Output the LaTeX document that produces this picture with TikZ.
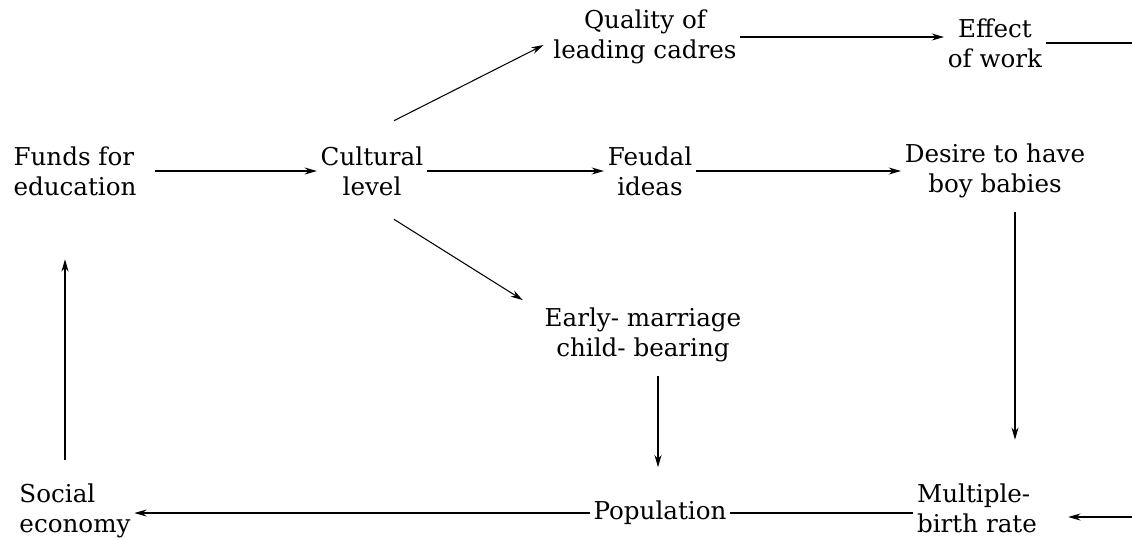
\documentclass[tikz,border=0pt]{standalone}
\usepackage{fontspec}
\setmainfont{DejaVu Serif}
\usetikzlibrary{arrows.meta}

\begin{document}
\begin{tikzpicture}[
    x=0.02cm, y=-0.02cm,
    every node/.style={font=\fontsize{14}{17}\selectfont, inner sep=2pt},
    item/.style={align=center},
    leftitem/.style={align=left},
    arrow/.style={-{Stealth[length=7pt,width=4pt]}, line width=0.6pt},
    plain/.style={line width=0.6pt}
]
\useasboundingbox (0,0) rectangle (1132,539);

% nodes, top row
\node[item] (quality) at (645,37) {Quality of\\leading cadres};
\node[item] (effect) at (995,43) {Effect\\of work};

% middle row
\node[leftitem] (funds) at (75,171) {Funds for\\education};
\node[item] (cultural) at (372,171) {Cultural\\level};
\node[item] (feudal) at (650,171) {Feudal\\ideas};
\node[item] (desire) at (995,171) {Desire to have\\boy babies};
\node[item] (early) at (643,335) {Early- marriage\\child- bearing};

% bottom row
\node[leftitem] (social) at (75,511) {Social\\economy};
\node (population) at (660,513) {Population};
\node[leftitem] (multiple) at (977,508) {Multiple-\\birth rate};

% free ends at the right edge
\coordinate (outtop) at (1132,43);
\coordinate (inbottom) at (1132,517);

% connectors
\draw[arrow] ([xshift=0.3cm]funds.east) -- (cultural);
\draw[arrow] ([shift={(22,-22)}]cultural.north) -- ([shift={(-6,8)}]quality.west);
\draw[arrow] (cultural) -- (feudal);
\draw[arrow] ([shift={(22,20)}]cultural.south) -- ([shift={(-18,-4)}]early.north west);
\draw[arrow] (quality) -- (effect.west |- quality);
\draw[plain] (effect.east) -- (outtop);
\draw[arrow] (feudal) -- (desire);
\draw[arrow] ([xshift=0.4cm,yshift=-0.2cm]desire.south) -- ([xshift=0.4cm,yshift=0.8cm]desire.south |- multiple.north);
\draw[arrow] ([xshift=0.3cm,yshift=-0.2cm]early.south) -- ([xshift=0.3cm,yshift=0.6cm]early.south |- population.north);
\draw[plain] (population) -- (multiple.west |- population);
\draw[arrow] (population) -- (social.east |- population);
\draw[arrow] (inbottom) -- ([xshift=0.55cm]multiple.east |- inbottom);
\draw[arrow] ([xshift=-0.2cm,yshift=0.4cm]social.north) -- ([xshift=-0.2cm,yshift=-1.2cm]social.north |- funds.south);

\end{tikzpicture}
\end{document}
